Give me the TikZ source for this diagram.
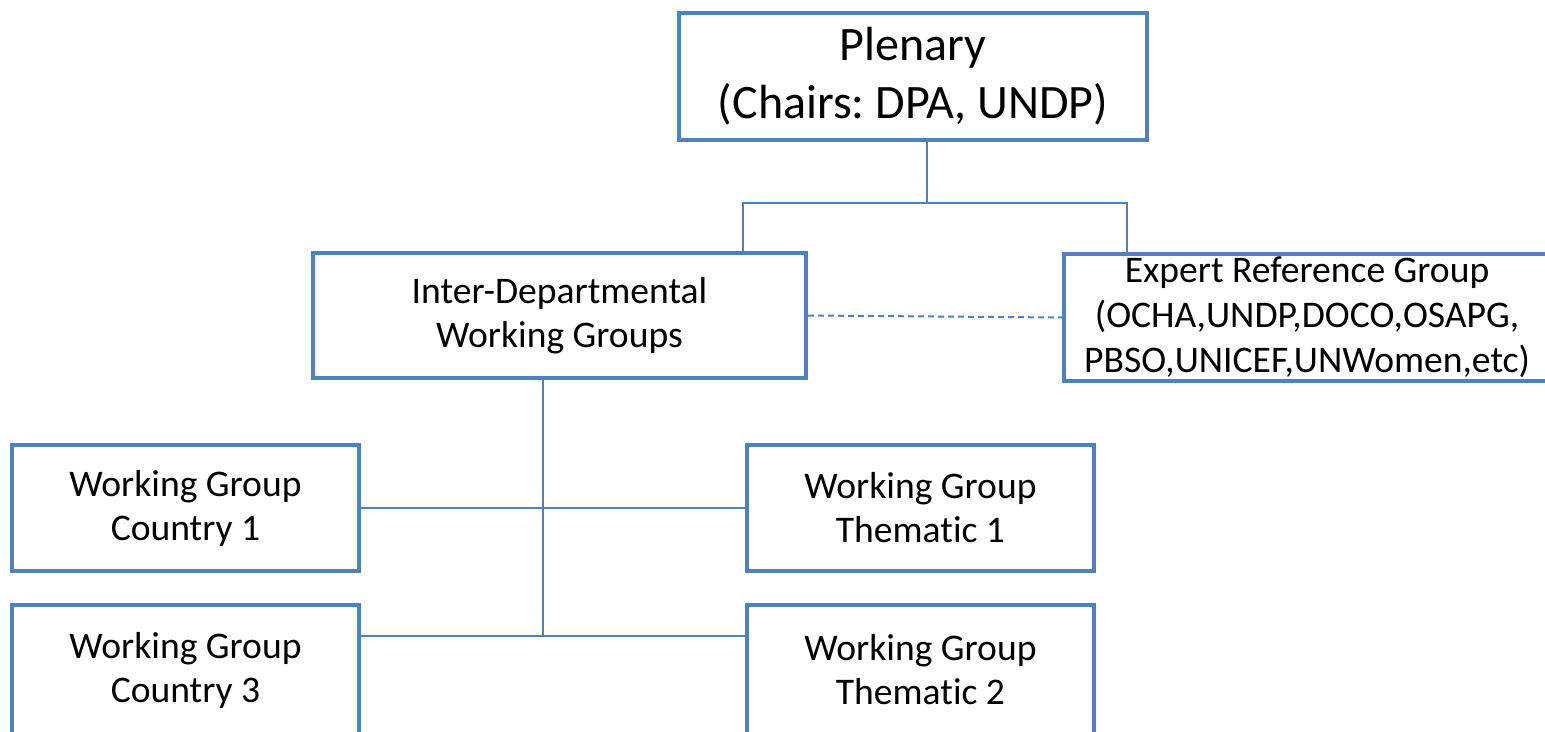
\documentclass[tikz,border=0pt]{standalone}
\usepackage{fontspec}
\setmainfont{Carlito}[Ligatures=NoCommon]
\frenchspacing
\definecolor{boxblue}{HTML}{4F81BD}
\tikzset{
  orgbox/.style={draw=boxblue, line width=4pt, align=center, inner sep=0pt,
    font=\fontsize{37.6}{44}\selectfont, text=black},
  conn/.style={draw=boxblue, line width=2pt},
}
\begin{document}
\begin{tikzpicture}[x=1pt,y=1pt]
\useasboundingbox (0,0) rectangle (1545,-731);
\node[orgbox, minimum width=468pt, minimum height=127pt, font=\fontsize{48}{58}\selectfont] (plen) at (913,-76.5) {Plenary\\(Chairs: DPA, UNDP)};
\node[orgbox, minimum width=493pt, minimum height=125pt] (idwg) at (559.5,-315.5) {Inter-Departmental\\Working Groups};
\node[orgbox, minimum width=486pt, minimum height=127pt, font=\fontsize{37.6}{45}\selectfont] (erg) at (1307,-317.5) {Expert Reference Group\\(OCHA,UNDP,DOCO,OSAPG,\\PBSO,UNICEF,UNWomen,etc)};
\node[orgbox, minimum width=347pt, minimum height=126pt] (c1) at (185.5,-508) {Working Group\\Country 1};
\node[orgbox, minimum width=347pt, minimum height=126pt] (t1) at (920.5,-508) {Working Group\\Thematic 1};
\node[orgbox, minimum width=347pt, minimum height=130pt] (c3) at (185.5,-670) {Working Group\\Country 3};
\node[orgbox, minimum width=347pt, minimum height=130pt] (t2) at (920.5,-670) {Working Group\\Thematic 2};
\coordinate (j1) at (927,-203);
\coordinate (jl) at (743,-203);
\coordinate (jr) at (1127,-203);
\coordinate (j2) at (543,-636);
\draw[conn] (plen.south -| j1) -- (j1);
\draw[conn] (jl |- idwg.north) -- (jl) -- (jr) -- (jr |- erg.north);
\draw[conn, dash pattern=on 6pt off 4pt] (idwg.east) -- (erg.west);
\draw[conn] (idwg.south -| j2) -- (j2);
\draw[conn] (c1.east) -- (t1.west);
\draw[conn] (c3.east |- j2) -- (t2.west |- j2);
\end{tikzpicture}
\end{document}
